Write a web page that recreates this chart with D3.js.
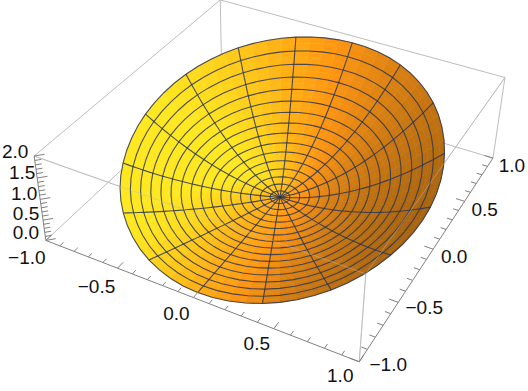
<!DOCTYPE html>
<html>
<head>
<meta charset="utf-8">
<script src="https://cdn.jsdelivr.net/npm/d3@7"></script>
<style>
  html, body { margin: 0; padding: 0; background: white; }
  text { font-family: "Liberation Sans", Arial, sans-serif; font-size: 19px; fill: #111; }
</style>
</head>
<body>
<svg id="chart" width="528" height="391"></svg>
<script>
// surface: 16 spokes, 16 rings
const spokeAngles = [0, 22.5, 45, 67.5, 90, 112.5, 135, 157.5, 180, 202.5, 225, 247.5, 270, 292.5, 315, 337.5];
const rimRadius = [0.955, 0.955, 0.955, 0.955, 0.955, 0.955, 0.955, 0.955, 0.955, 0.955, 0.955, 0.955, 0.955, 0.95, 0.955, 0.955];
const rimHeight = [0.965, 1.34, 1.68, 1.88, 1.93, 1.85, 1.65, 1.35, 0.98, 0.605, 0.325, 0.09, 0, 0.06, 0.3, 0.62];
const ringRadius = [0, 0.0625, 0.125, 0.1875, 0.25, 0.3125, 0.375, 0.4375, 0.5, 0.5625, 0.625, 0.6875, 0.75, 0.8125, 0.875, 0.9375, 1];
const ringHeight = [0, 0.004, 0.016, 0.035, 0.063, 0.098, 0.141, 0.191, 0.25, 0.316, 0.391, 0.473, 0.563, 0.66, 0.766, 0.879, 1];

const xTicks = [-1, -0.5, 0, 0.5, 1];
const yTicks = [-1, -0.5, 0, 0.5, 1];
const zTicks = [0, 0.5, 1, 1.5, 2];

// where the box corners land on the page, used to fit the camera
const boxCorners = [
  [[-1, -1, 0], [47, 241]], [[1, -1, 0], [359, 362]], [[1, 1, 0], [493, 159]], [[-1, 1, 0], [221, 75]],
  [[-1, -1, 2], [33, 156]], [[1, -1, 2], [366, 273]], [[1, 1, 2], [505, 77]], [[-1, 1, 2], [221, 1]]
];

const svg = d3.select("#chart");

function solve(A, b) {
  const n = b.length;
  const m = A.map((row, i) => row.concat(b[i]));
  for (let i = 0; i < n; i++) {
    let p = i;
    for (let r = i + 1; r < n; r++) if (Math.abs(m[r][i]) > Math.abs(m[p][i])) p = r;
    [m[i], m[p]] = [m[p], m[i]];
    for (let r = 0; r < n; r++) {
      if (r === i) continue;
      const f = m[r][i] / m[i][i];
      for (let c = i; c <= n; c++) m[r][c] -= f * m[i][c];
    }
  }
  return m.map((row, i) => row[n] / row[i]);
}

function fitCamera(corners) {
  const rows = [], rhs = [];
  corners.forEach(([[X, Y, Z], [u, v]]) => {
    rows.push([X, Y, Z, 1, 0, 0, 0, 0, -u * X, -u * Y, -u * Z]); rhs.push(u);
    rows.push([0, 0, 0, 0, X, Y, Z, 1, -v * X, -v * Y, -v * Z]); rhs.push(v);
  });
  const idx = d3.range(11);
  const AtA = idx.map(i => idx.map(j => d3.sum(rows, r => r[i] * r[j])));
  const Atb = idx.map(i => d3.sum(rows, (r, k) => r[i] * rhs[k]));
  return solve(AtA, Atb);
}

const cam = fitCamera(boxCorners);
function project([X, Y, Z]) {
  const w = cam[8] * X + cam[9] * Y + cam[10] * Z + 1;
  return [
    (cam[0] * X + cam[1] * Y + cam[2] * Z + cam[3]) / w,
    (cam[4] * X + cam[5] * Y + cam[6] * Z + cam[7]) / w
  ];
}

// smooth lookup between the read values, only for drawing
function smooth(arr, u, closed) {
  const n = arr.length;
  const at = i => closed ? arr[((i % n) + n) % n] : arr[Math.max(0, Math.min(n - 1, i))];
  const i = Math.floor(u), t = u - i;
  const p0 = at(i - 1), p1 = at(i), p2 = at(i + 1), p3 = at(i + 2);
  return 0.5 * (2 * p1 + (p2 - p0) * t + (2 * p0 - 5 * p1 + 4 * p2 - p3) * t * t + (3 * p1 - p0 - 3 * p2 + p3) * t * t * t);
}

const step = spokeAngles[1] - spokeAngles[0];
function surface(u, v) {
  const a = (u * step) * Math.PI / 180;
  const r = smooth(rimRadius, u, true) * smooth(ringRadius, v, false);
  const z = Math.max(0, smooth(rimHeight, u, true)) * smooth(ringHeight, v, false);
  return [r * Math.cos(a), r * Math.sin(a), z];
}

function normal(u, v) {
  const vv = Math.max(v, 0.5), e = 0.05;
  const p = surface(u, vv), pu = surface(u + e, vv), pv = surface(u, vv + e);
  const a = [pu[0] - p[0], pu[1] - p[1], pu[2] - p[2]];
  const b = [pv[0] - p[0], pv[1] - p[1], pv[2] - p[2]];
  let n = [a[1] * b[2] - a[2] * b[1], a[2] * b[0] - a[0] * b[2], a[0] * b[1] - a[1] * b[0]];
  const len = Math.hypot(n[0], n[1], n[2]) * (n[2] < 0 ? -1 : 1);
  return n.map(d => d / len);
}

const light = [0.75, -0.25, 0.6];
const shade = d3.scaleLinear()
  .domain([-0.4, 0.1, 0.45, 0.65, 0.95])
  .range(["#9a5c10", "#d27c12", "#ff9612", "#ffb016", "#ffe820"])
  .clamp(true);

const line = d3.line().x(d => project(d)[0]).y(d => project(d)[1]);
const edge = (a, b) => line([a, b]);
const boxLine = "#bdbdbd", axisLine = "#808080";

// back edges of the box go under the surface
const backEdges = [
  [[-1, -1, 0], [-1, 1, 0]], [[-1, 1, 0], [1, 1, 0]], [[-1, 1, 0], [-1, 1, 2]],
  [[-1, -1, 2], [-1, 1, 2]], [[-1, 1, 2], [1, 1, 2]], [[1, 1, 0], [1, 1, 2]], [[-1, -1, 2], [1, -1, 2]], [[1, -1, 2], [1, 1, 2]], [[1, -1, 0], [1, -1, 2]]
];
svg.append("g").selectAll("path").data(backEdges).enter().append("path")
  .attr("d", d => edge(d[0], d[1]))
  .attr("fill", "none").attr("stroke", boxLine).attr("stroke-width", 1);

// surface cells, small enough for the colour to look continuous
const nSpokes = spokeAngles.length, nRings = ringRadius.length - 1;
const cells = [];
for (let i = 0; i < nSpokes * 4; i++) {
  for (let j = 0; j < nRings * 2; j++) {
    cells.push({ u: i / 4, v: j / 2 });
  }
}
svg.append("g").selectAll("path").data(cells).enter().append("path")
  .attr("d", d => line([
    surface(d.u, d.v), surface(d.u + 0.25, d.v),
    surface(d.u + 0.25, d.v + 0.5), surface(d.u, d.v + 0.5)
  ]) + "Z")
  .each(function(d) {
    const n = normal(d.u + 0.125, d.v + 0.25);
    const c = shade(n[0] * light[0] + n[1] * light[1] + n[2] * light[2]);
    d3.select(this).attr("fill", c).attr("stroke", c).attr("stroke-width", 0.6);
  });

// mesh
const mesh = svg.append("g").attr("fill", "none").attr("stroke", "#2b3550").attr("stroke-opacity", 0.85).attr("stroke-width", 1.1);
ringRadius.slice(1).forEach((_, k) => {
  const pts = d3.range(0, nSpokes + 0.01, 0.25).map(u => surface(u, k + 1));
  mesh.append("path").attr("d", line(pts));
});
spokeAngles.forEach((_, i) => {
  const pts = d3.range(0, nRings + 0.01, 0.5).map(v => surface(i, v));
  mesh.append("path").attr("d", line(pts));
});

// front top edges show faintly across the surface
const overEdges = [[[-1, -1, 2], [1, -1, 2]], [[1, -1, 2], [1, 1, 2]], [[1, -1, 0], [1, -1, 2]]];
svg.append("g").selectAll("path").data(overEdges).enter().append("path")
  .attr("d", d => edge(d[0], d[1]))
  .attr("fill", "none").attr("stroke", boxLine).attr("stroke-opacity", 0.45).attr("stroke-width", 1);

// axes with ticks
const axes = svg.append("g").attr("fill", "none").attr("stroke", axisLine).attr("stroke-width", 1);
axes.append("path").attr("d", edge([-1, -1, 0], [1, -1, 0]));
axes.append("path").attr("d", edge([1, -1, 0], [1, 1, 0]));
axes.append("path").attr("d", edge([-1, -1, 0], [-1, -1, 2]));

const isMajor = v => Math.abs(v * 2 - Math.round(v * 2)) < 1e-6;
const xScale = d3.scaleLinear().domain([-1, 1]).range([-1, 1]);
xScale.ticks(20).forEach(v => {
  const len = isMajor(v) ? 0.055 : 0.035;
  axes.append("path").attr("d", edge([xScale(v), -1, 0], [xScale(v), -1 + len, 0]));
});
const yScale = d3.scaleLinear().domain([-1, 1]).range([-1, 1]);
yScale.ticks(20).forEach(v => {
  const len = isMajor(v) ? 0.055 : 0.035;
  axes.append("path").attr("d", edge([1, yScale(v), 0], [1 - len, yScale(v), 0]));
});
const zScale = d3.scaleLinear().domain([0, 2]).range([0, 2]);
zScale.ticks(20).forEach(v => {
  const len = isMajor(v) ? 0.04 : 0.025;
  axes.append("path").attr("d", edge([-1, -1, zScale(v)], [-1 + len, -1 + len, zScale(v)]));
});

const fmt = v => (v < 0 ? "\u2212" : "") + Math.abs(v).toFixed(1);
const xLabelOffset = [[-19, 17], [-21, 18], [-17, 16], [-17, 15], [-19, 14]];
const yLabelOffset = [[29, 3], [26, 5], [21, 7], [20, 8], [19, 7]];
const zLabelOffset = [[-20, -8], [-17, -7], [-16, -6], [-15, -6], [-19, -5]];

function label(pos, text, off) {
  const p = project(pos);
  svg.append("text")
    .attr("x", p[0] + off[0]).attr("y", p[1] + off[1])
    .attr("text-anchor", "middle").attr("dominant-baseline", "central")
    .text(text);
}
xTicks.forEach((v, i) => label([xScale(v), -1, 0], fmt(v), xLabelOffset[i]));
yTicks.forEach((v, i) => label([1, yScale(v), 0], fmt(v), yLabelOffset[i]));
zTicks.forEach((v, i) => label([-1, -1, zScale(v)], fmt(v), zLabelOffset[i]));
</script>
</body>
</html>
